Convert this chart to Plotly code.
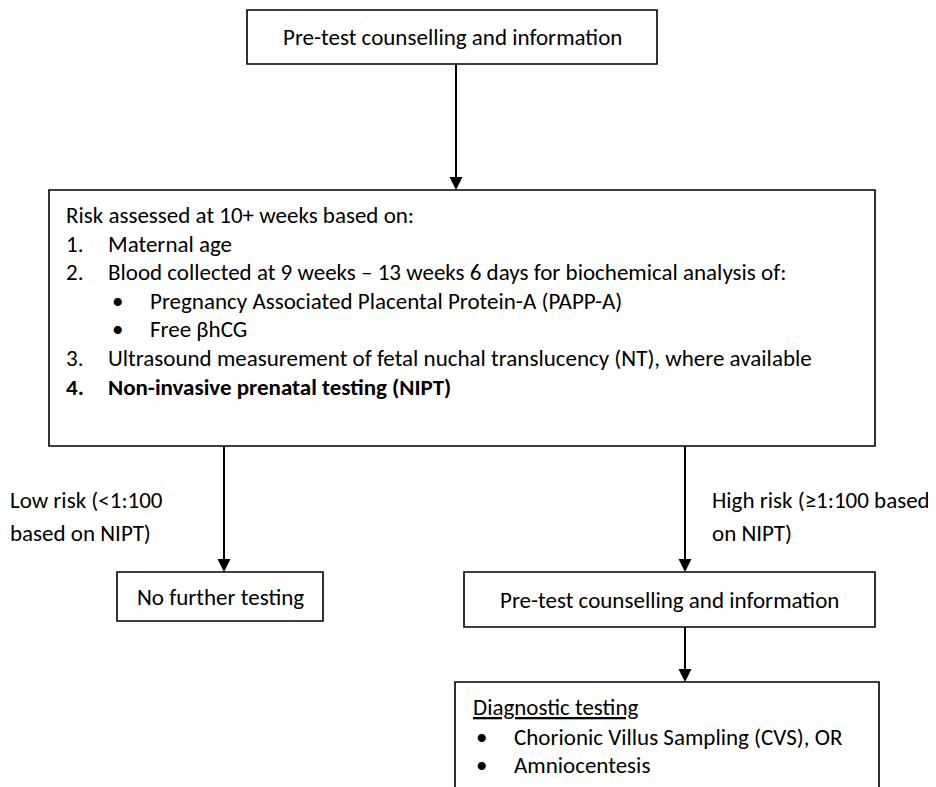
import plotly.graph_objects as go

# ---- content (text) ----
top_step = "Pre-test counselling and information"
assess_header = "Risk assessed at 10+ weeks based on:"
assess_markers = ["1.", "2.", "•", "•", "3.", "<b>4.</b>"]
assess_items = [
    "Maternal age",
    "Blood collected at 9 weeks – 13 weeks 6 days for biochemical analysis of:",
    "Pregnancy Associated Placental Protein-A (PAPP-A)",
    "Free βhCG",
    "Ultrasound measurement of fetal nuchal translucency (NT), where available",
    "<b>Non-invasive prenatal testing (NIPT)</b>",
]
assess_levels = [0, 0, 1, 1, 0, 0]
low_label = ["Low risk (<1:100", "based on NIPT)"]
high_label = ["High risk (≥1:100 based", "on NIPT)"]
low_outcome = "No further testing"
high_step = "Pre-test counselling and information"
diag_header = "Diagnostic testing"
diag_items = ["Chorionic Villus Sampling (CVS), OR", "Amniocentesis"]

# ---- layout geometry (page pixels, y downward) ----
W, H = 936, 787
OFF = 8  # page body margin
boxes = {
    "top": (247, 10, 657, 64),
    "main": (49, 190, 875, 446),
    "low": (117, 572, 323, 621),
    "high": (464, 572, 875, 627),
    "diag": (455, 682, 879, 820),
}
arrows = [(456, 64, 190), (224, 446, 572), (685, 446, 572), (685, 627, 682)]
FONT = "Calibri, Carlito, Lato, sans-serif"
FS = 23
LINE = 28.6

fig = go.Figure()
fig.add_trace(go.Scatter(x=[OFF, W + OFF], y=[OFF, H + OFF], mode="markers",
                         marker=dict(opacity=0), hoverinfo="skip", showlegend=False))

for name, (x0, y0, x1, y1) in boxes.items():
    fig.add_shape(type="rect", x0=x0, y0=y0, x1=x1, y1=y1,
                  line=dict(color="black", width=1.6), fillcolor="white", layer="below")

for (x, y0, y1) in arrows:
    fig.add_shape(type="line", x0=x, y0=y0, x1=x, y1=y1 - 11,
                  line=dict(color="black", width=2))
    fig.add_shape(type="path",
                  path=f"M {x-6.5},{y1-13} L {x+6.5},{y1-13} L {x},{y1} Z",
                  fillcolor="black", line=dict(color="black", width=0))

def txt(x, y, s, anchor="left"):
    fig.add_annotation(x=x, y=y, text=s, showarrow=False, xanchor=anchor,
                       yanchor="middle", font=dict(family=FONT, size=FS, color="black"))

# top box
bx = boxes["top"]
txt((bx[0] + bx[2]) / 2, (bx[1] + bx[3]) / 2, top_step, "center")

# main box
y = 215
txt(64, y, assess_header)
for i, (m, it, lv) in enumerate(zip(assess_markers, assess_items, assess_levels)):
    yy = y + LINE * (i + 1)
    if lv == 0:
        txt(64, yy, m)
        txt(106, yy, it)
    else:
        txt(110, yy, m)
        txt(148, yy, it)

# branch labels
for i, s in enumerate(low_label):
    txt(8, 500 + 33 * i, s)
for i, s in enumerate(high_label):
    txt(710, 500 + 33 * i, s)

bx = boxes["low"]
txt((bx[0] + bx[2]) / 2, (bx[1] + bx[3]) / 2, low_outcome, "center")
bx = boxes["high"]
txt((bx[0] + bx[2]) / 2, (bx[1] + bx[3]) / 2, high_step, "center")

txt(471, 707, f"<u>{diag_header}</u>")
for i, s in enumerate(diag_items):
    txt(474, 737 + 28 * i, "•")
    txt(512, 737 + 28 * i, s)

fig.update_layout(
    width=W, height=H, margin=dict(l=0, r=0, t=0, b=0),
    paper_bgcolor="white", plot_bgcolor="white",
    xaxis=dict(range=[OFF, W + OFF], visible=False, fixedrange=True),
    yaxis=dict(range=[H + OFF, OFF], visible=False, fixedrange=True),
    showlegend=False,
)
fig.write_html("out.html")
